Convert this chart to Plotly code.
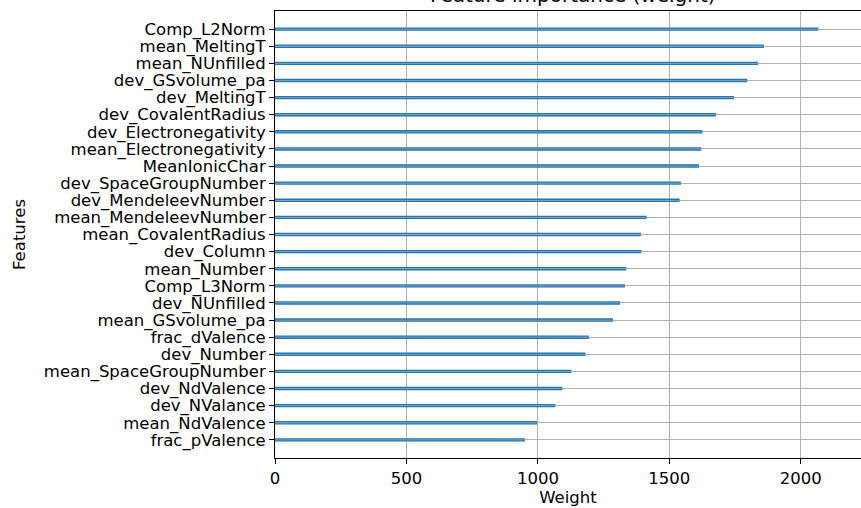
import plotly.graph_objects as go

features = [
    "Comp_L2Norm", "mean_MeltingT", "mean_NUnfilled", "dev_GSvolume_pa", "dev_MeltingT",
    "dev_CovalentRadius", "dev_Electronegativity", "mean_Electronegativity", "MeanIonicChar",
    "dev_SpaceGroupNumber", "dev_MendeleevNumber", "mean_MendeleevNumber", "mean_CovalentRadius",
    "dev_Column", "mean_Number", "Comp_L3Norm", "dev_NUnfilled", "mean_GSvolume_pa",
    "frac_dValence", "dev_Number", "mean_SpaceGroupNumber", "dev_NdValence", "dev_NValance",
    "mean_NdValence", "frac_pValence",
]
weights = [
    2067, 1860, 1837, 1796, 1746,
    1677, 1626, 1621, 1613,
    1544, 1539, 1414, 1392,
    1394, 1336, 1331, 1313, 1286,
    1194, 1181, 1127, 1093, 1066,
    997, 951,
]
x_ticks = [0, 500, 1000, 1500, 2000]

# plot bottom-to-top like matplotlib barh
feat_plot = features[::-1]
w_plot = weights[::-1]
ypos = list(range(len(feat_plot)))

FONT = "DejaVu Sans"
fs = 16.5

fig = go.Figure()
fig.add_trace(go.Bar(
    x=w_plot, y=ypos, orientation="h", width=0.2,
    marker=dict(color="#1f77b4", line=dict(width=0)),
    showlegend=False, hoverinfo="x+text", text=feat_plot, textposition="none",
))
# grid line drawn over bars (matplotlib draws grid above patches)
fig.add_trace(go.Bar(
    x=w_plot, y=ypos, orientation="h", width=0.045,
    marker=dict(color="rgba(176,176,176,0.9)", line=dict(width=0)),
    showlegend=False, hoverinfo="skip",
))

fig.update_layout(
    width=861, height=508,
    margin=dict(l=275, r=0, t=11, b=50),
    paper_bgcolor="white", plot_bgcolor="white",
    barmode="overlay",
    font=dict(family=FONT, size=fs, color="#000000"),
    xaxis=dict(
        range=[0, 2229], tickvals=x_ticks, ticktext=[str(v) for v in x_ticks],
        showgrid=True, gridcolor="#b0b0b0", gridwidth=1,
        showline=True, linecolor="#000000", linewidth=1, mirror=True,
        ticks="outside", ticklen=5, tickwidth=1, tickcolor="#000000",
        zeroline=False, automargin=False,
        title=dict(text="Weight", font=dict(family=FONT, size=fs), standoff=2),
        tickfont=dict(family=FONT, size=fs),
    ),
    yaxis=dict(
        range=[-1.06, 25.06], tickvals=ypos, ticktext=feat_plot,
        showgrid=True, gridcolor="#b0b0b0", gridwidth=1,
        showline=True, linecolor="#000000", linewidth=1,
        ticks="outside", ticklen=5, tickwidth=1, tickcolor="#000000",
        zeroline=False, automargin=False,
        title=dict(text="Features", font=dict(family=FONT, size=fs), standoff=14),
        tickfont=dict(family=FONT, size=fs),
    ),
    annotations=[dict(
        text="Feature importance (weight)", xref="paper", yref="paper",
        x=0.509, y=1, xanchor="center", yanchor="bottom", yshift=2, showarrow=False,
        font=dict(family=FONT, size=20, color="#000000"),
    )],
)

fig.write_html(
    "out.html",
    config={"displayModeBar": False},
    post_script="document.body.style.margin='0px';document.body.style.overflow='hidden';",
)
